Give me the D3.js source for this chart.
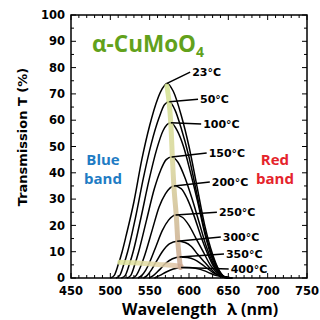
<!DOCTYPE html>
<html>
<head>
<meta charset="utf-8">
<script src="https://cdn.jsdelivr.net/npm/d3@7"></script>
<style>
  body { margin: 0; background: #fff; }
  svg { display: block; }
  .tick-lbl { font-family: "DejaVu Sans", sans-serif; font-weight: bold; font-size: 11.5px; }
</style>
</head>
<body>
<svg width="320" height="320"></svg>
<script>
var svg = d3.select("svg"),
    width = +svg.attr("width"),
    height = +svg.attr("height");
var margin = { top: 15, right: 13, bottom: 42, left: 71 };

// temperatures (labels) and one transmission curve per temperature: [wavelength nm, T %]
var temps = ["23°C", "50°C", "100°C", "150°C", "200°C", "250°C", "300°C", "350°C", "400°C"];
var c23 = [[500,0],[505,1],[510,5],[515,10],[520,16],[530,29],[540,45],[550,58],[560,68],[566,72],[572,74],[580,71],[590,62],[600,50],[610,35],[620,20],[630,9],[638,3],[645,0.5],[655,0]];
var c50 = [[507,0],[512,1],[517,5],[522,10],[532,23],[542,38],[552,51],[562,61],[569,66],[575,67],[582,64],[590,57],[600,46],[610,32],[620,18],[630,8],[638,3],[645,0.5],[655,0]];
var c100 = [[514,0],[519,1],[524,5],[529,10],[539,23],[549,37],[559,49],[567,56],[577,59],[585,56],[593,50],[602,40],[611,29],[620,17],[630,7],[638,2.5],[645,0.5],[655,0]];
var c150 = [[521,0],[526,1],[531,5],[536,10],[546,22],[556,34],[564,41],[571,45],[578,46],[586,44],[595,38],[604,30],[613,21],[622,12],[630,6],[638,2],[645,0.4],[655,0]];
var c200 = [[528,0],[533,1],[538,4],[543,8],[553,18],[562,27],[570,32],[581,35],[590,34],[598,30],[606,24],[615,16],[624,9],[632,4],[640,1.2],[647,0.3],[655,0]];
var c250 = [[535,0],[540,1],[545,3],[550,6],[558,12],[566,18],[574,22],[583,24],[592,23],[600,20],[609,15],[618,10],[627,5],[634,2.5],[641,0.8],[648,0.2],[655,0]];
var c300 = [[542,0],[547,1],[552,3],[558,6],[566,10],[575,13],[585,14],[595,13.5],[603,12],[611,9],[620,6],[628,3.3],[635,1.5],[642,0.5],[650,0]];
var c350 = [[549,0],[555,1],[562,3],[570,5.5],[579,7.3],[588,8],[598,7.8],[607,7],[615,5.5],[623,3.7],[631,2],[638,1],[645,0.3],[652,0]];
var c400 = [[556,0],[563,1],[571,2.3],[580,3.4],[590,4],[600,4],[610,3.6],[619,2.8],[627,1.8],[635,0.9],[642,0.4],[650,0]];
var curves = [c23, c50, c100, c150, c200, c250, c300, c350, c400];

// where each temperature label sits (left edge, middle), in data units
var labelAt = [[604,78.3],[614,68],[618,58.6],[625,47.5],[629,36.5],[638,25],[643,15.6],[647,9.1],[653,3.4]];

// guide bands: along the peaks (yellow -> brown) and along the foot (yellow -> tan)
var peakBand = [[572,73],[575,66],[577,58],[579,45],[581,34],[584,23],[586,13],[589,4]];
var footBand = [[512,6],[530,5.8],[550,5.4],[570,5],[590,4.4]];

var xTicks = [450, 500, 550, 600, 650, 700, 750];
var yTicks = [0, 10, 20, 30, 40, 50, 60, 70, 80, 90, 100];

var x = d3.scaleLinear().domain([450, 750]).range([margin.left, width - margin.right]);
var y = d3.scaleLinear().domain([0, 100]).range([height - margin.bottom, margin.top]);

var defs = svg.append("defs");
var g1 = defs.append("linearGradient").attr("id", "gv")
    .attr("gradientUnits", "userSpaceOnUse")
    .attr("x1", 0).attr("y1", y(74)).attr("x2", 0).attr("y2", y(4));
g1.append("stop").attr("offset", "0").attr("stop-color", "#d3e38f");
g1.append("stop").attr("offset", "0.45").attr("stop-color", "#d8d49a");
g1.append("stop").attr("offset", "1").attr("stop-color", "#c9a58e");
var g2 = defs.append("linearGradient").attr("id", "gh")
    .attr("gradientUnits", "userSpaceOnUse")
    .attr("x1", x(512)).attr("y1", 0).attr("x2", x(592)).attr("y2", 0);
g2.append("stop").attr("offset", "0").attr("stop-color", "#dfe79a");
g2.append("stop").attr("offset", "0.55").attr("stop-color", "#e3d8a6");
g2.append("stop").attr("offset", "1").attr("stop-color", "#dcb9a2");

var line = d3.line()
    .x(function (d) { return x(d[0]); })
    .y(function (d) { return y(d[1]); })
    .curve(d3.curveMonotoneX);
var bandLine = d3.line()
    .x(function (d) { return x(d[0]); })
    .y(function (d) { return y(d[1]); })
    .curve(d3.curveCatmullRom);

// curves
svg.append("g").selectAll("path")
    .data(curves)
    .enter().append("path")
    .attr("d", line)
    .attr("fill", "none")
    .attr("stroke", "#000")
    .attr("stroke-width", 1.5);

// bands
svg.append("path").attr("d", bandLine(footBand))
    .attr("fill", "none").attr("stroke", "url(#gh)").attr("stroke-width", 5)
    .attr("stroke-linecap", "round").attr("opacity", 0.85);
svg.append("path").attr("d", bandLine(peakBand))
    .attr("fill", "none").attr("stroke", "url(#gv)").attr("stroke-width", 5)
    .attr("stroke-linecap", "round").attr("opacity", 0.85);

// leader lines + labels
var labels = svg.append("g");
curves.forEach(function (c, i) {
    var pk = c.reduce(function (a, b) { return b[1] > a[1] ? b : a; });
    var lx = x(labelAt[i][0]), ly = y(labelAt[i][1]);
    labels.append("line")
        .attr("x1", x(pk[0])).attr("y1", y(pk[1]))
        .attr("x2", lx - 2).attr("y2", ly)
        .attr("stroke", "#000").attr("stroke-width", 1.5);
    labels.append("text")
        .attr("x", lx).attr("y", ly)
        .attr("dy", "0.36em")
        .attr("font-family", "DejaVu Sans, sans-serif")
        .attr("font-weight", "bold")
        .attr("font-size", "11px")
        .text(temps[i]);
});

// axes with inward ticks on all four sides
var xMinor = d3.range(450, 751, 10), yMinor = d3.range(0, 101, 5);
function tickSide(scale, vals, len, orient) {
    var gg = svg.append("g");
    vals.forEach(function (v) {
        var l = (typeof len === "function") ? len(v) : len;
        var p = scale(v), ln = gg.append("line").attr("stroke", "#000").attr("stroke-width", 1);
        if (orient === "bottom") ln.attr("x1", p).attr("x2", p).attr("y1", y(0)).attr("y2", y(0) - l);
        if (orient === "top") ln.attr("x1", p).attr("x2", p).attr("y1", y(100)).attr("y2", y(100) + l);
        if (orient === "left") ln.attr("y1", p).attr("y2", p).attr("x1", x(450)).attr("x2", x(450) + l);
        if (orient === "right") ln.attr("y1", p).attr("y2", p).attr("x1", x(750)).attr("x2", x(750) - l);
    });
}
tickSide(x, xMinor, function (v) { return v % 50 === 0 ? 5 : 3; }, "bottom");
tickSide(x, xMinor, function (v) { return v % 50 === 0 ? 5 : 3; }, "top");
tickSide(y, yMinor, function (v) { return v % 10 === 0 ? 5 : 3; }, "left");
tickSide(y, yMinor, function (v) { return v % 10 === 0 ? 5 : 3; }, "right");

svg.append("rect")
    .attr("x", x(450)).attr("y", y(100))
    .attr("width", x(750) - x(450)).attr("height", y(0) - y(100))
    .attr("fill", "none").attr("stroke", "#000").attr("stroke-width", 1.5);

svg.append("g").selectAll("text").data(xTicks).enter().append("text")
    .attr("class", "tick-lbl")
    .attr("x", function (d) { return x(d); })
    .attr("y", y(0) + 17)
    .attr("text-anchor", "middle")
    .text(function (d) { return d; });
svg.append("g").selectAll("text").data(yTicks).enter().append("text")
    .attr("class", "tick-lbl")
    .attr("x", x(450) - 6)
    .attr("y", function (d) { return y(d); })
    .attr("dy", "0.36em")
    .attr("text-anchor", "end")
    .text(function (d) { return d; });

// axis titles
svg.append("text")
    .attr("transform", "translate(27," + 137 + ") rotate(-90)")
    .attr("text-anchor", "middle")
    .attr("font-family", "DejaVu Sans, sans-serif")
    .attr("font-weight", "bold")
    .attr("font-size", "13px")
    .text("Transmission T (%)");
var xt = svg.append("text")
    .attr("x", 200).attr("y", 315)
    .attr("text-anchor", "middle")
    .attr("font-family", "Open Sans, sans-serif")
    .attr("font-weight", "bold")
    .attr("font-size", "16px");
xt.append("tspan").text("Wavelength");
xt.append("tspan").attr("dx", 10).text("λ (nm)");

// title and band notes
var t = svg.append("text")
    .attr("x", 92).attr("y", 52)
    .attr("font-family", "Open Sans, sans-serif")
    .attr("font-weight", "bold")
    .attr("font-size", "22.5px")
    .attr("fill", "#62a11b");
t.append("tspan").text("α-CuMoO");
t.append("tspan").attr("font-size", "14px").attr("dy", 5).text("4");

function note(cx, lines, color) {
    svg.append("g").selectAll("text").data(lines).enter().append("text")
        .attr("x", cx)
        .attr("y", function (d, i) { return 165 + i * 19; })
        .attr("text-anchor", "middle")
        .attr("font-family", "Open Sans, sans-serif")
        .attr("font-weight", "bold")
        .attr("font-size", "15px")
        .attr("fill", color)
        .text(function (d) { return d; });
}
note(103, ["Blue", "band"], "#1f7cc4");
note(275, ["Red", "band"], "#e5232b");
</script>
</body>
</html>
